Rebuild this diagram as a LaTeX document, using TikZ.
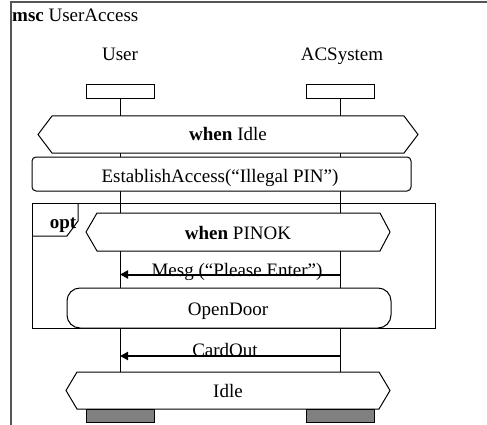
\documentclass[tikz,border=0pt]{standalone}
\usepackage{fontspec}
\setmainfont{Liberation Serif}
\usetikzlibrary{arrows.meta}

\definecolor{framegray}{RGB}{85,85,85}
\definecolor{endgray}{RGB}{128,128,128}

\tikzset{
  lbl/.style={font=\fontsize{19}{21}\selectfont, inner sep=0pt, anchor=base},
  shapeline/.style={draw=black, line width=1pt, fill=white},
  lifeline/.style={draw=black, line width=1pt},
  headbox/.style={draw=black, line width=1pt, fill=white, minimum width=68pt, minimum height=14pt, inner sep=0pt},
  endbox/.style={draw=black, line width=1pt, fill=endgray, minimum width=68pt, minimum height=13pt, inner sep=0pt},
  msg/.style={draw=black, line width=2pt, -{Triangle[length=8pt,width=8pt]}},
}

\begin{document}
\begin{tikzpicture}[x=1pt,y=-1pt]
\useasboundingbox (0,0) rectangle (487,425);

% diagram frame
\draw[framegray, line width=1.5pt] (11,426) -- (11,2) -- (488,2);
\node[lbl, anchor=base west] (title) at (12,21.5) {\textbf{msc} UserAccess};

% instance names and heads
\node[lbl] (userName) at (120,61) {User};
\node[lbl] (acName) at (342,61) {ACSystem};
\node[headbox] (userHead) at (120,92) {};
\node[headbox] (acHead) at (340,92) {};

% lifeline ends
\coordinate (userEnd) at (120,372);
\coordinate (acEnd) at (340,372);
\draw[lifeline] (userHead.south) -- (userEnd);
\draw[lifeline] (acHead.south) -- (acEnd);

% condition: when Idle
\draw[shapeline] (38,134.5) -- (52,116) -- (404,116) -- (418,134.5) -- (404,153) -- (52,153) -- cycle;
\node[lbl] (condIdle) at (228,140) {\textbf{when} Idle};

% reference: EstablishAccess
\draw[shapeline, rounded corners=4pt] (32,157) rectangle (411,191);
\node[lbl] (refEstablish) at (220,182) {EstablishAccess(“Illegal PIN”)};

% opt inline expression
\draw[black, line width=1pt] (32,203) rectangle (435,328);
\draw[black, line width=1pt] (32,236) -- (67,236) -- (78,221) -- (78,203);
\node[lbl] (optLabel) at (63,228) {\textbf{opt}};

% condition: when PINOK
\draw[shapeline] (86,232) -- (97,213) -- (380,213) -- (390,232) -- (380,251) -- (97,251) -- cycle;
\node[lbl] (condPinok) at (238,239) {\textbf{when} PINOK};

% message: Mesg
\coordinate (acMesg) at (340,274.5);
\coordinate (userMesg) at (120,274.5);
\node[lbl] (mesgLabel) at (237,276) {Mesg (“Please Enter”)};
\draw[msg] (acMesg) -- (userMesg);

% reference: OpenDoor
\draw[shapeline, rounded corners=13pt] (67,288) rectangle (391,328);
\node[lbl] (refOpenDoor) at (228,315) {OpenDoor};

% message: CardOut
\coordinate (acCard) at (340,356);
\coordinate (userCard) at (120,356);
\node[lbl] (cardLabel) at (225,356) {CardOut};
\draw[msg] (acCard) -- (userCard);

% condition: Idle
\draw[shapeline] (66,390.5) -- (77,372) -- (379,372) -- (390,390.5) -- (379,409) -- (77,409) -- cycle;
\node[lbl] (condIdleEnd) at (228,397) {Idle};

% instance ends
\node[endbox] (userStop) at (120,415.5) {};
\node[endbox] (acStop) at (340,415.5) {};
\end{tikzpicture}
\end{document}
